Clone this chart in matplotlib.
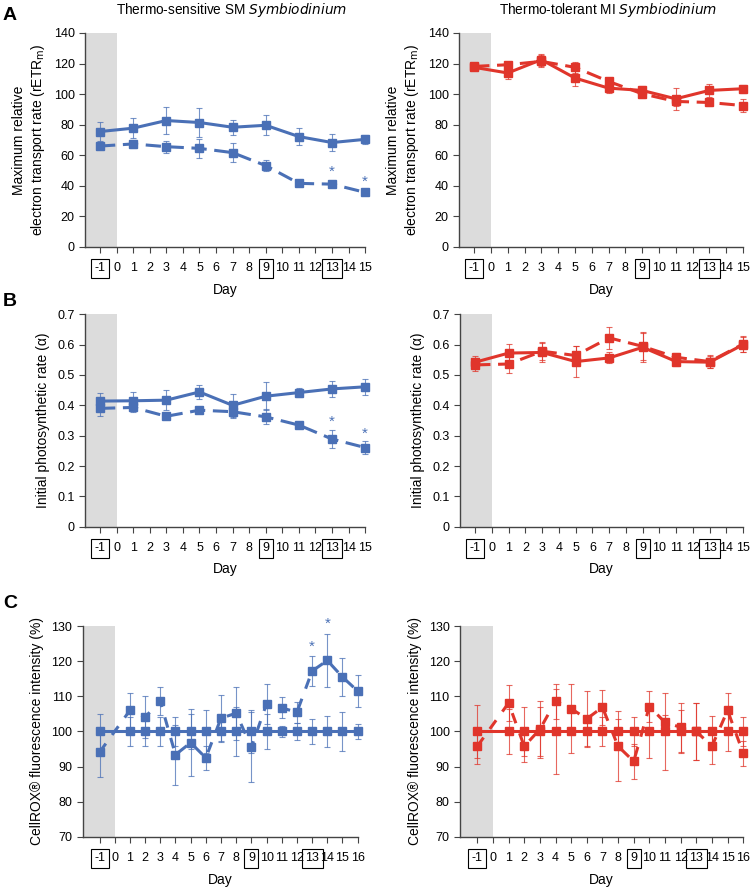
import matplotlib
matplotlib.use("Agg")
from matplotlib import pyplot as plt
import numpy as np

plt.rcParams['font.family'] = ['Liberation Sans', 'DejaVu Sans']

BLUE = '#4a70b6'
RED = '#e0352b'

# Panel A / B days
days_ab = [-1, 1, 3, 5, 7, 9, 11, 13, 15]
# Panel C days
days_c = [-1, 1, 2, 3, 4, 5, 6, 7, 8, 9, 10, 11, 12, 13, 14, 15, 16]

# A: rETRm
sm_etr_ctrl = [75.5, 77.7, 82.7, 81.4, 78.3, 79.6, 72.2, 68.3, 70.4]
sm_etr_ctrl_err = [6, 6.5, 9, 9.5, 5, 6.5, 5.5, 5.5, 3]
sm_etr_heat = [66, 67.4, 65.6, 64.5, 61.7, 53.2, 41.6, 41.1, 35.7]
sm_etr_heat_err = [2, 2.5, 4, 6, 6, 3.5, 2, 2, 1.5]
mi_etr_ctrl = [117.5, 113.8, 122.5, 110.5, 103.9, 102.4, 96.9, 102.4, 103.5]
mi_etr_ctrl_err = [2, 4, 4, 5, 3, 3, 7, 4.5, 2.5]
mi_etr_heat = [118.1, 119.2, 121.4, 117.5, 108.3, 100.2, 95.2, 94.5, 92.5]
mi_etr_heat_err = [2, 2, 4, 3.5, 2.5, 2.5, 3, 2, 4]

# B: alpha
sm_alpha_ctrl = [0.414, 0.415, 0.417, 0.444, 0.400, 0.430, 0.442, 0.454, 0.461]
sm_alpha_ctrl_err = [0.025, 0.03, 0.032, 0.024, 0.038, 0.047, 0.015, 0.026, 0.027]
sm_alpha_heat = [0.390, 0.393, 0.364, 0.384, 0.379, 0.362, 0.335, 0.289, 0.261]
sm_alpha_heat_err = [0.025, 0.015, 0.01, 0.01, 0.02, 0.025, 0.008, 0.03, 0.02]
mi_alpha_ctrl = [0.542, 0.572, 0.574, 0.544, 0.556, 0.591, 0.544, 0.542, 0.600]
mi_alpha_ctrl_err = [0.02, 0.03, 0.03, 0.05, 0.018, 0.05, 0.015, 0.02, 0.025]
mi_alpha_heat = [0.533, 0.536, 0.578, 0.564, 0.622, 0.594, 0.558, 0.544, 0.602]
mi_alpha_heat_err = [0.02, 0.03, 0.03, 0.03, 0.036, 0.045, 0.015, 0.02, 0.025]

# C: CellROX
sm_ros_ctrl = [100] * 17
sm_ros_ctrl_err = [5, 4, 4, 4, 4, 5, 6, 3, 7, 6, 5, 1.5, 2.5, 3.5, 4.5, 5.5, 2.2]
sm_ros_heat = [94.1, 106, 104.1, 108.6, 93.4, 96.8, 92.5, 103.8, 105.2, 95.5,
               107.9, 106.7, 105.5, 117.2, 120.2, 115.5, 111.5]
sm_ros_heat_err = [7, 5, 6, 4, 8.5, 9.5, 3.5, 6.5, 7.5, 10, 5.7, 3, 3, 4.3, 7.6, 5.5, 4.5]
mi_ros_ctrl = [100] * 17
mi_ros_ctrl_err = [7.4, 6.5, 7, 7, 12, 6, 4, 4, 3.5, 4, 7.5, 11, 6, 8, 4.5, 5.5, 4]
mi_ros_heat = [95.8, 108.1, 95.8, 100.6, 108.6, 106.5, 103.6, 106.9, 95.8, 91.5,
               107.1, 102.6, 101.2, 100, 95.8, 106, 93.8]
mi_ros_heat_err = [5, 5, 4.5, 8, 5, 7, 8, 5, 10, 5, 4.5, 2, 7, 8, 5, 5, 3.5]

boxed = ['-1', '9', '13']

fig = plt.figure(figsize=(7.53, 8.9), dpi=100)


def draw(ax, x, y, err, color, ls):
    cont = ax.errorbar(x, y, yerr=err, color=color, lw=2.2, marker='s', ms=5.5,
                       ls=ls, ecolor=color, elinewidth=0.8, capsize=2.5,
                       capthick=0.8, zorder=3)
    line, caps, bars = cont.lines
    line.set_clip_on(False)
    for c in caps:
        c.set_clip_on(False)
        c.set_alpha(0.75)
    for b in bars:
        b.set_clip_on(False)
        b.set_alpha(0.75)


def panel(rect, x, ctrl, ctrl_err, heat, heat_err, color, ylim, yticks, ylabel,
          xmax, xmin, dash, stars=None, ytickfmt=None):
    ax = fig.add_axes(rect)
    ax.axvspan(xmin, 0, color='#dcdcdc', lw=0, zorder=0)
    draw(ax, x, ctrl, ctrl_err, color, '-')
    draw(ax, x, heat, heat_err, color, (0, dash))
    if stars:
        for sx, sy in stars:
            ax.text(sx, sy, '*', color=color, ha='center', va='center', fontsize=11)
    ax.set_xlim(xmin, xmax)
    ax.set_ylim(*ylim)
    ax.set_yticks(yticks)
    if ytickfmt:
        ax.set_yticklabels([ytickfmt(v) for v in yticks])
    ticks = list(range(-1, xmax + 1))
    ax.set_xticks(ticks)
    ax.set_xticklabels([str(t) for t in ticks])
    for spine in ['top', 'right']:
        ax.spines[spine].set_visible(False)
    for spine in ['left', 'bottom']:
        ax.spines[spine].set_color('#444444')
        ax.spines[spine].set_linewidth(1.0)
    ax.tick_params(axis='both', direction='out', length=4, width=0.8,
                   color='#444444', labelsize=9)
    ax.tick_params(axis='x', pad=7)
    for lbl in ax.get_xticklabels():
        if lbl.get_text() in boxed:
            lbl.set_bbox(dict(boxstyle='square,pad=0.28', fc='none', ec='black', lw=0.8))
    ax.set_xlabel('Day', fontsize=10, labelpad=6)
    ax.set_ylabel(ylabel, fontsize=10, labelpad=5)
    return ax


etr_label = 'Maximum relative\nelectron transport rate (rETR$_\\mathrm{m}$)'
alpha_label = 'Initial photosynthetic rate (\u03b1)'
ros_label = 'CellROX\u00ae fluorescence intensity (%)'
ab_fmt = lambda v: ('0' if v == 0 else f'{v:.1f}')

axA1 = panel([0.113, 0.7225, 0.372, 0.2405], days_ab, sm_etr_ctrl, sm_etr_ctrl_err,
             sm_etr_heat, sm_etr_heat_err, BLUE, (0, 140), range(0, 141, 20),
             etr_label, 15, -1.9, (5, 2.5), stars=[(13, 49), (15, 42.6)])
axA2 = panel([0.6096, 0.7225, 0.377, 0.2405], days_ab, mi_etr_ctrl, mi_etr_ctrl_err,
             mi_etr_heat, mi_etr_heat_err, RED, (0, 140), range(0, 141, 20),
             etr_label, 15, -1.9, (5, 2.5))
axB1 = panel([0.113, 0.408, 0.372, 0.239], days_ab, sm_alpha_ctrl, sm_alpha_ctrl_err,
             sm_alpha_heat, sm_alpha_heat_err, BLUE, (0, 0.7), np.arange(0, 0.71, 0.1),
             alpha_label, 15, -1.9, (5, 2.5), stars=[(13, 0.346), (15, 0.307)],
             ytickfmt=ab_fmt)
axB2 = panel([0.611, 0.408, 0.376, 0.239], days_ab, mi_alpha_ctrl, mi_alpha_ctrl_err,
             mi_alpha_heat, mi_alpha_heat_err, RED, (0, 0.7), np.arange(0, 0.71, 0.1),
             alpha_label, 15, -1.9, (5, 2.5), ytickfmt=ab_fmt)
axC1 = panel([0.110, 0.0596, 0.365, 0.237], days_c, sm_ros_ctrl, sm_ros_ctrl_err,
             sm_ros_heat, sm_ros_heat_err, BLUE, (70, 130), range(70, 131, 10),
             ros_label, 16, -2.1, (3.5, 3.5), stars=[(13, 124), (14, 130.7)])
axC2 = panel([0.611, 0.0596, 0.376, 0.237], days_c, mi_ros_ctrl, mi_ros_ctrl_err,
             mi_ros_heat, mi_ros_heat_err, RED, (70, 130), range(70, 131, 10),
             ros_label, 16, -2.1, (3.5, 3.5))

fig.text(0.308, 0.989, 'Thermo-sensitive SM $\\it{Symbiodinium}$', ha='center',
         va='center', fontsize=9.8)
fig.text(0.807, 0.989, 'Thermo-tolerant MI $\\it{Symbiodinium}$', ha='center',
         va='center', fontsize=9.8)
for letter, y in [('A', 0.983), ('B', 0.661), ('C', 0.322)]:
    fig.text(0.004, y, letter, fontsize=14, fontweight='bold', ha='left', va='center')

fig.savefig('out.png', dpi=100)
